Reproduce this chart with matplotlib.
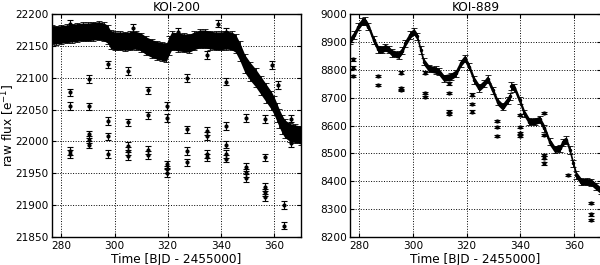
import numpy as np
import matplotlib
matplotlib.use("Agg")
import matplotlib.pyplot as plt

# ---------------- KOI-200 ----------------
koi200_t = [276.6, 278, 280, 282, 284, 286, 288, 290, 292, 294, 296, 297.5, 298.5,
            300, 302, 304, 306, 308, 310, 312, 314, 316, 318, 319.5, 320.5, 321.5,
            324, 326, 328, 330, 332, 334, 336, 338, 340, 342, 344, 345.5, 347, 349,
            351, 353, 355, 357, 359, 360, 361, 362, 363, 364, 366, 368, 370]
koi200_f = [22168, 22167, 22168, 22169, 22170, 22171, 22172, 22172, 22173, 22174, 22172, 22168, 22160,
            22158, 22158, 22157, 22158, 22159, 22156, 22150, 22146, 22143, 22141, 22140, 22150, 22158,
            22156, 22155, 22154, 22158, 22161, 22161, 22159, 22158, 22158, 22159, 22158, 22154, 22142, 22122,
            22110, 22100, 22088, 22076, 22064, 22056, 22046, 22036, 22027, 22020, 22014, 22012, 22010]

koi200_out_t = [283.1, 283.1, 283.1, 283.1, 283.1,
                290.5, 290.5, 290.5, 290.5, 290.5,
                297.7, 297.7, 297.7, 297.7,
                305.2, 305.2, 305.2, 305.2, 305.2, 307.0,
                312.5, 312.5, 312.5, 312.5,
                319.9, 319.9, 319.9, 319.9, 319.9, 323.8,
                327.1, 327.1, 327.1, 327.1,
                334.6, 334.6, 334.6, 334.6, 334.6, 339.0,
                341.8, 341.8, 341.8, 341.8, 341.8, 341.8,
                349.3, 349.3, 349.3, 349.3,
                356.5, 356.5, 356.5, 356.5, 356.5,
                359.3, 361.3, 363.7, 363.7, 366.5, 366.5]
koi200_out_f = [22184, 22077, 22056, 21985, 21980,
                22098, 22055, 22011, 22003, 21995,
                22121, 22032, 22008, 21980,
                22111, 22030, 21993, 21985, 21977, 22178,
                22080, 22041, 21987, 21979,
                22056, 22037, 21964, 21956, 21950, 22172,
                22100, 22019, 21985, 21967,
                22136, 22016, 22009, 21980, 21975, 22185,
                22172, 22094, 22024, 21995, 21980, 21973,
                22037, 21960, 21950, 21943,
                22035, 21975, 21928, 21920, 21912,
                22120, 22089, 21900, 21868, 22036, 21998]

# ---------------- KOI-889 ----------------
koi889_t = [276.5, 278, 279.6, 281, 282, 283.4, 285.3, 287.1, 288.5, 289.6, 291, 292.2,
            294.6, 295.9, 297.1, 299, 300.3, 301.5, 302.8, 304, 305.9, 308.4, 309.6,
            311.5, 314, 315.9, 317.8, 319.3, 320.9, 322.8, 324.7, 326.5, 327.8, 329.7,
            331.5, 333.4, 335.3, 336.2, 336.6, 337.8, 339.7, 341.5, 343.4, 345.3,
            347.2, 349, 350.9, 352.8, 354.7, 355.9, 357.2, 358.4, 359.7, 360.9,
            362.8, 364.7, 366.5, 368.4, 370]
koi889_f = [8905, 8925, 8955, 8973, 8975, 8955, 8907, 8873, 8872, 8880, 8872, 8860,
            8853, 8868, 8895, 8925, 8937, 8920, 8871, 8829, 8805, 8799, 8793,
            8770, 8775, 8787, 8823, 8841, 8811, 8763, 8735, 8751, 8767, 8727,
            8685, 8667, 8691, 8705, 8742, 8735, 8691, 8644, 8614, 8614,
            8622, 8590, 8542, 8515, 8518, 8540, 8548, 8512, 8464, 8422,
            8398, 8398, 8396, 8380, 8367]

koi889_out_t = [277.7, 277.7, 277.7,
                286.8, 286.8,
                295.6, 295.6, 295.6,
                304.4, 304.4, 304.4,
                313.4, 313.4, 313.4, 313.4,
                322.1, 322.1, 322.1,
                331.2, 331.2, 331.2,
                339.7, 339.7, 339.7, 339.7,
                348.7, 348.7, 348.7, 348.7, 348.7,
                357.6,
                366.5, 366.5, 366.5]
koi889_out_f = [8837, 8808, 8778,
                8778, 8745,
                8790, 8733, 8727,
                8790, 8718, 8701,
                8751, 8718, 8650, 8643,
                8711, 8677, 8650,
                8617, 8596, 8563,
                8638, 8596, 8572, 8563,
                8646, 8566, 8494, 8485, 8464,
                8422,
                8323, 8281, 8261]

xticks = [280, 300, 320, 340, 360]
yticks200 = [21850, 21900, 21950, 22000, 22050, 22100, 22150, 22200]
yticks889 = [8200, 8300, 8400, 8500, 8600, 8700, 8800, 8900, 9000]

plt.rcParams['font.family'] = ['DejaVu Sans']
fig = plt.figure(figsize=(6.0, 2.65), dpi=100)
ax1 = fig.add_axes([0.0867, 0.1057, 0.4145, 0.8413])
ax2 = fig.add_axes([0.5833, 0.1057, 0.4180, 0.8413])


def draw(ax, t, f, hw, err, ot, of, oerr, yt, ylim, title):
    t = np.asarray(t, float)
    f = np.asarray(f, float)
    ax.fill_between(t, f - hw, f + hw, color='black', lw=0, zorder=2)
    ax.errorbar(t, f, yerr=err, fmt='.', color='black', ms=3, capsize=2,
                elinewidth=0.6, capthick=0.6, zorder=3)
    ax.errorbar(ot, of, yerr=oerr, fmt='.', color='black', ms=4, capsize=2,
                elinewidth=0.8, capthick=0.8, zorder=4)
    ax.set_xlim(276.5, 370)
    ax.set_ylim(*ylim)
    ax.set_xticks(xticks)
    ax.set_yticks(yt)
    ax.grid(True, color='black', linestyle=':', linewidth=0.7)
    ax.tick_params(direction='in', labelsize=7.6, top=True, right=True, length=3)
    ax.tick_params(axis='y', pad=2.2)
    ax.tick_params(axis='x', pad=3)
    ax.set_xlabel('Time [BJD - 2455000]', fontsize=8.7, labelpad=1)
    ax.set_title(title, fontsize=8.7, pad=2)
    for s in ax.spines.values():
        s.set_linewidth(1.0)


draw(ax1, koi200_t, koi200_f, 14, 15, koi200_out_t, koi200_out_f, 6,
     yticks200, (21850, 22200), 'KOI-200')
draw(ax2, koi889_t, koi889_f, 12, 13, koi889_out_t, koi889_out_f, 4,
     yticks889, (8200, 9000), 'KOI-889')
fig.text(0.0133, 0.528, 'raw flux [e$^{-1}$]', fontsize=8.7, rotation=90,
         ha='center', va='center')

fig.savefig('out.png', dpi=100)
